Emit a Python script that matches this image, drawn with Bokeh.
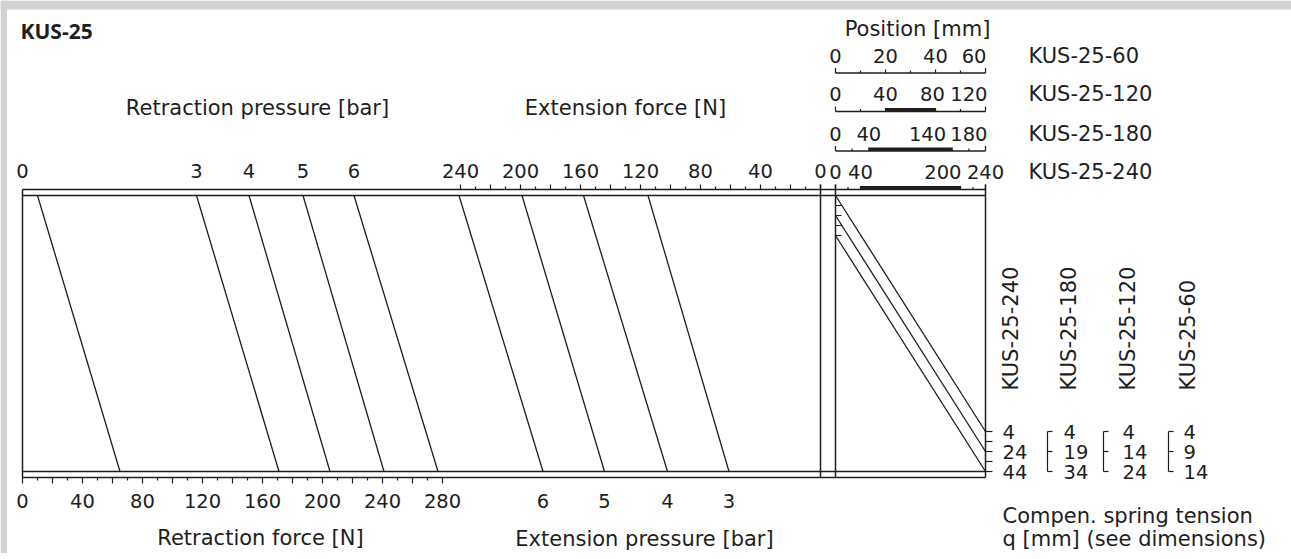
import math
from bokeh.plotting import figure
from bokeh.models import Range1d, ColumnDataSource
from bokeh.core.properties import value
from bokeh.embed import file_html
from bokeh.resources import INLINE

# ---------------- data ----------------
title = "KUS-25"

# retraction (left) section
retr_force_ticks = list(range(0, 281, 10))
retr_force_labels = [0, 40, 80, 120, 160, 200, 240, 280]
retr_pressure_labels = [0, 3, 4, 5, 6]
retr_pressure_force = [0, 116, 151, 187, 221]
retr_line_force_top = [10, 116, 151, 187, 221]
retr_line_force_bottom = [65, 171, 205, 241, 277]

# extension (middle) section
ext_force_ticks = list(range(0, 241, 10))
ext_force_labels = [240, 200, 160, 120, 80, 40, 0]
ext_pressure_labels = [6, 5, 4, 3]
ext_line_force_top = [241, 199, 158, 115]
ext_line_force_bottom = [185, 144, 102, 61]

# position / spring section (right)
models = ["KUS-25-60", "KUS-25-120", "KUS-25-180", "KUS-25-240"]
strokes = [60, 120, 180, 240]
stroke_tick_step = [10, 20, 20, 20]
stroke_labels = [[0, 20, 40, 60], [0, 40, 80, 120], [0, 40, 140, 180], [0, 40, 200, 240]]
stroke_bars = [None, (40, 80), (40, 140), (40, 200)]
q_labels = [[4, 9, 14], [4, 14, 24], [4, 19, 34], [4, 24, 44]]
spring_q = [4, 24, 44]
q_ticks = [4, 14, 24, 34, 44]

# ---------------- geometry / style ----------------
C = "#1e1e1e"
FRAME_GREY = "#d1d2d4"
FONT = value("DejaVu Sans")
FS_WORD = "21px"
FS_NUM = "19.5px"
W, H = 1291, 553

def rx(F):
    return 22 + 1.5 * F

def ex(F):
    return 820 - 1.5 * F

def px(pos, stroke):
    return 835 + 150.0 * pos / stroke

YT0, YT1, YB1, YB0 = 189, 195, 471, 477

def qy0(q):
    return 191 + q

def qy1(q):
    return 427 + q

ROW_Y = [72.5, 111, 150.5, 189]
ROW_LABEL_Y = [55, 93, 133, 171]
label_align = [["center", "center", "center", "right"],
               ["center", "center", "center", "right"],
               ["center", "center", "right", "right"],
               ["center", "center", "right", "center"]]
label_dx = [[0, 0, 0, 1], [0, 0, -3, 2], [0, 0, -6, 2], [0, 0, 1, 0]]
rot_x = [1187, 1127, 1068, 1010]
bracket_x = [1168, 1103, 1047]
qlabel_x = [1183, 1122, 1063, 1002]

p = figure(width=W, height=H, x_range=Range1d(0, W), y_range=Range1d(H, 0),
           output_backend="svg", toolbar_location=None, min_border=0,
           x_axis_type=None, y_axis_type=None)
p.grid.visible = False
p.outline_line_color = None
p.background_fill_color = "white"
p.border_fill_color = "white"

# grey page frame (top and left strips)
p.quad(left=[0, 0], right=[W, 6.5], top=[0, 0], bottom=[9, H],
       fill_color=FRAME_GREY, line_color=None)

segs = {"x0": [], "y0": [], "x1": [], "y1": [], "w": []}

def seg(x0, y0, x1, y1, w=1.5):
    segs["x0"].append(x0); segs["y0"].append(y0)
    segs["x1"].append(x1); segs["y1"].append(y1)
    segs["w"].append(w)

# frame
for y in (YT0, YT1, YB1, YB0):
    seg(22, y, 985, y)
seg(22, YT0, 22, YB0)
seg(985, 184, 985, YB0)
seg(820, 184, 820, YB0)
seg(835, 184, 835, YB0)

# extension force ticks (top, right-to-left)
for F in ext_force_ticks:
    L = 5 if F % 20 == 0 else 3
    seg(ex(F), YT0, ex(F), YT0 - L, 1.2)

# retraction force ticks (bottom)
for F in retr_force_ticks:
    L = 6 if F % 20 == 0 else 3
    seg(rx(F), YB0, rx(F), YB0 + L, 1.2)

# retraction pressure lines
for ft, fb in zip(retr_line_force_top, retr_line_force_bottom):
    seg(rx(ft), YT1, rx(fb), YB1, 1.3)

# extension pressure lines
for ft, fb in zip(ext_line_force_top, ext_line_force_bottom):
    seg(ex(ft), YT1, ex(fb), YB1, 1.3)

# position scales
for i, (s, st) in enumerate(zip(strokes, stroke_tick_step)):
    y = ROW_Y[i]
    if i < 3:
        seg(835, y, 985, y)
    for pos in range(0, s + 1, st):
        if pos in (0, s):
            L = 5
        elif pos in stroke_labels[i]:
            L = 3.5
        else:
            L = 2.5
        seg(px(pos, s), y, px(pos, s), y - L, 1.2)
    if stroke_bars[i] is not None:
        a, b = stroke_bars[i]
        seg(px(a, s), y - 1.8, px(b, s), y - 1.8, 3.6)

# spring tension lines (KUS-25-240)
for q in spring_q:
    seg(835, qy0(q), 985, qy1(q), 1.3)
for q in q_ticks[1:]:
    seg(835, qy0(q), 841, qy0(q), 1.2)
for q in q_ticks:
    seg(985, qy1(q), 992, qy1(q), 1.2)
for bx in bracket_x:
    seg(bx, qy1(spring_q[0]), bx, qy1(spring_q[-1]), 1.2)
    for q in spring_q:
        seg(bx, qy1(q), bx + 5, qy1(q), 1.2)

p.segment(x0="x0", y0="y0", x1="x1", y1="y1", line_width="w", line_color=C,
          line_cap="butt", source=ColumnDataSource(segs))

texts = {}

def txt(x, y, t, align="center", size=FS_NUM):
    d = texts.setdefault((align, size), {"x": [], "y": [], "t": []})
    d["x"].append(x); d["y"].append(y); d["t"].append(str(t))

txt(257, 107, "Retraction pressure [bar]", size=FS_WORD)
txt(625, 107, "Extension force [N]", size=FS_WORD)
txt(917, 28, "Position [mm]", size=FS_WORD)
txt(260, 537, "Retraction force [N]", size=FS_WORD)
txt(644, 538, "Extension pressure [bar]", size=FS_WORD)
txt(1002, 515, "Compen. spring tension", "left", FS_WORD)
txt(1002, 538, "q [mm] (see dimensions)", "left", FS_WORD)

for v, F in zip(retr_pressure_labels, retr_pressure_force):
    txt(rx(F), 170, v)
for F in ext_force_labels:
    txt(ex(F), 170, F)
for F in retr_force_labels:
    txt(rx(F), 500, F)
for v, F in zip(ext_pressure_labels, ext_line_force_bottom):
    txt(ex(F), 500, v)

for i, m in enumerate(models):
    txt(1028, ROW_LABEL_Y[i], m, "left", FS_WORD)
    for j, v in enumerate(stroke_labels[i]):
        txt(px(v, strokes[i]) + label_dx[i][j], ROW_LABEL_Y[i], v, label_align[i][j])
    for j, v in enumerate(q_labels[i]):
        txt(qlabel_x[i], qy1(spring_q[j]), v, "left")

for (align, size), d in texts.items():
    p.text(x="x", y="y", text="t", source=ColumnDataSource(d), text_font=FONT,
           text_font_size=size, text_align=align, text_baseline="middle", text_color=C)

# rotated model labels
p.text(x=rot_x, y=[390] * 4, text=models, angle=math.pi / 2, text_font=FONT,
       text_font_size=FS_WORD, text_align="left", text_baseline="middle", text_color=C)

# title
p.text(x=[20], y=[30], text=[title], text_font=value("Open Sans"), text_font_size="21px",
       text_font_style="bold", text_align="left", text_baseline="middle", text_color=C)

open("out.html", "w").write(file_html(p, INLINE))
